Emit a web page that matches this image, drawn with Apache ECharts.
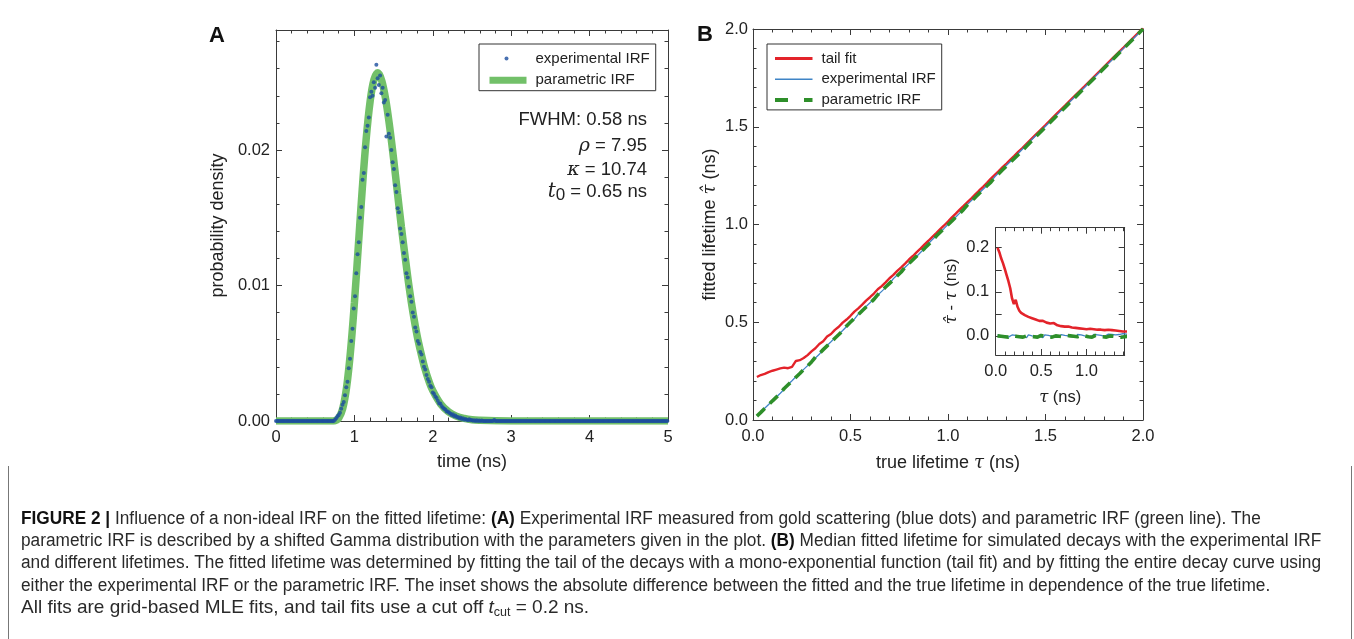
<!DOCTYPE html>
<html>
<head>
<meta charset="utf-8">
<script src="https://cdn.jsdelivr.net/npm/echarts@6/dist/echarts.min.js"></script>
<style>
html,body{margin:0;padding:0;background:#fff;}
#chart{width:1354px;height:639px;}
</style>
</head>
<body>
<div id="chart"></div>
<script>
// ---------------- DATA ----------------
// Panel A: experimental IRF (blue dots), one value per 16 ps bin starting at t = 0
const irfBinWidth = 0.016; // ns
const expIrfDensity = [
  0,0,0,0,0,0,0,0,0,0,0,0,0,0,0,0,0,0,0,0,0,0,0,
  0,0,0,0,0,0,0,0,0,0,0,0,0,0,0,0,0,0,0,0,0,0,0,
  0,0.0001,0.0002,0.00035,0.00045,0.0006,0.0009,0.0012,0.0014,0.0019,
  0.0025,0.0029,0.0039,0.0046,0.0059,0.0068,0.0083,0.0092,0.0109,0.0123,
  0.0132,0.0150,0.0158,0.0178,0.0183,0.0202,0.0214,0.0218,0.0224,0.0239,
  0.0243,0.0240,0.0250,0.0246,0.0263,0.0253,0.0248,0.0255,0.0242,0.0246,
  0.0235,0.0237,0.0210,0.0226,0.0212,0.0209,0.0200,0.0191,0.0186,0.0174,
  0.0169,0.0157,0.0154,0.0142,0.0138,0.0132,0.0124,0.0119,0.0109,0.0106,
  0.0099,0.0092,0.0088,0.0080,0.0077,0.0069,0.0066,0.0059,0.0057,0.0051,
  0.0049,0.0044,0.0040,0.0038,0.0034,0.0031,0.0029,0.0026,0.0025,0.0021,
  0.0020,0.0018,0.0017,0.0015,0.0013,0.0013,0.0011,0.0010,0.0009,0.00085,
  0.0007,0.0007,0.0006,0.00055,0.00045,0.0005,0.00035,0.0004,0.0003,0.0003,
  0.0002,0.00025,0.00015,0.0002,0.0001,0.00015,0.0001,0.00005,0.00012,0.00005,
  0.00008,0.00002,0.00006,0,0.00005,0,0.00003,0,0.00004,0,
  0,0,0,0,0,0,0,0,0.00008,0,
  0,0,0,0,0,0,0,0,0,0,0,0,0,0,0,0,0,0,0,0,
  0,0,0,0,0,0,0,0,0,0,0,0,0,0,0,0,0,0,0,0,
  0,0,0,0,0,0,0,0,0,0,0,0,0,0,0,0,0,0,0,0,
  0,0,0,0,0,0,0,0,0,0,0,0,0,0,0,0,0,0,0,0,
  0,0,0,0,0,0,0,0,0,0,0,0,0,0,0,0,0,0,0,0,
  0,0,0,0,0,0,0,0,0,0,0,0,0,0,0,0,0,0,0,0,
  0,0,0,0,0,0,0,0,0,0,0,0,0,0,0,0,0,0,0
];
// Panel A: parametric IRF (green line)
const paramIrfTime = [0,0.70,0.75,0.80,0.85,0.90,0.95,1.00,1.05,1.10,1.15,1.20,1.25,1.30,1.35,1.40,1.45,1.50,1.55,1.60,1.65,1.70,1.75,1.80,1.85,1.90,1.95,2.00,2.10,2.20,2.30,2.40,2.50,2.60,2.80,3.00,5.00];
const paramIrfDensity = [0,0,0.00002,0.00021,0.00089,0.00247,0.00512,0.00873,0.0129,0.0171,0.0208,0.02356,0.0252,0.0257,0.0251,0.0237,0.0217,0.01935,0.0168,0.0143,0.0120,0.0098,0.0079,0.0063,0.0050,0.00385,0.00295,0.00224,0.00126,0.00068,0.00036,0.00019,0.00009,0.00005,0.00001,0,0];

// Panel B: true lifetime tau (ns) and fitted-minus-true differences (ns)
const trueLifetime = [
  0.02,0.04,0.06,0.08,0.10,0.12,0.14,0.16,0.18,0.20,
  0.22,0.24,0.26,0.28,0.30,0.32,0.34,0.36,0.38,0.40,
  0.42,0.44,0.46,0.48,0.50,0.52,0.54,0.56,0.58,0.60,
  0.62,0.64,0.66,0.68,0.70,0.72,0.74,0.76,0.78,0.80,
  0.82,0.84,0.86,0.88,0.90,0.92,0.94,0.96,0.98,1.00,
  1.02,1.04,1.06,1.08,1.10,1.12,1.14,1.16,1.18,1.20,
  1.22,1.24,1.26,1.28,1.30,1.32,1.34,1.36,1.38,1.40,
  1.45,1.50,1.55,1.60,1.65,1.70,1.75,1.80,1.85,1.90,1.95,2.00
];
const tailFitDiff = [
  0.200,0.190,0.176,0.165,0.152,0.138,0.124,0.108,0.085,0.072,
  0.082,0.066,0.057,0.052,0.051,0.047,0.049,0.043,0.047,0.040,
  0.041,0.037,0.038,0.034,0.033,0.034,0.031,0.030,0.031,0.028,
  0.027,0.029,0.025,0.024,0.025,0.022,0.023,0.021,0.020,0.021,
  0.019,0.019,0.018,0.018,0.017,0.017,0.016,0.016,0.015,0.015,
  0.017,0.016,0.016,0.015,0.015,0.014,0.014,0.014,0.013,0.013,
  0.015,0.014,0.013,0.013,0.012,0.012,0.011,0.011,0.010,0.010,
  0.010,0.009,0.009,0.008,0.008,0.007,0.007,0.006,0.006,0.005,0.005,0.004
];
const expIrfDiff = [
  0.002,0.001,0.000,-0.001,-0.001,-0.002,-0.003,-0.003,0.002,0.001,
  0.001,0.000,-0.001,-0.002,-0.002,-0.003,-0.004,0.002,0.001,0.000,
  0.000,-0.001,-0.002,-0.002,-0.003,-0.004,0.002,0.002,0.001,0.000,
  -0.001,-0.001,-0.002,-0.003,-0.003,0.003,0.002,0.001,0.001,0.000,
  -0.001,-0.002,-0.002,-0.003,0.003,0.003,0.002,0.001,0.000,0.000,
  -0.001,-0.002,-0.002,0.003,0.003,0.002,0.002,0.001,0.000,-0.001,
  -0.001,0.004,0.004,0.003,0.003,0.002,0.002,0.003,0.004,0.005,
  0.004,0.003,0.002,0.003,0.002,0.001,0.002,0.001,0.000,0.001,0.000,0.000
];
const paramIrfDiff = [
  0.000,-0.001,-0.001,-0.002,-0.002,-0.003,-0.003,0.001,0.000,-0.001,
  -0.001,-0.002,-0.002,-0.003,-0.003,0.001,0.000,0.000,-0.001,-0.002,
  -0.002,-0.003,-0.003,0.001,0.001,0.000,-0.001,-0.001,-0.002,-0.003,
  -0.003,0.001,0.000,0.000,-0.001,-0.002,-0.002,-0.003,0.001,0.001,
  0.000,-0.001,-0.001,-0.002,-0.002,-0.003,0.001,0.000,0.000,-0.001,
  -0.002,-0.002,-0.003,-0.003,0.001,0.000,-0.001,-0.001,-0.002,-0.002,
  -0.003,0.001,0.000,0.000,-0.001,-0.002,-0.002,-0.003,-0.003,-0.002,
  -0.001,-0.002,-0.001,-0.002,-0.001,-0.001,-0.002,-0.001,-0.001,0.000,-0.001,0.000
];

// Tick values
const ticksA_x = [0,1,2,3,4,5];
const ticksA_y = [0,0.01,0.02];
const ticksB = [0,0.5,1.0,1.5,2.0];
const ticksInset_x = [0,0.5,1.0];
const ticksInset_y = [0,0.1,0.2];
const ticksInset_yMarks = [0,0.05,0.1,0.15,0.2];

// ---------------- STYLE / LAYOUT ----------------
const SANS = 'Liberation Sans';
const SERIF = 'DejaVu Serif';
const TXT = '#222';
const FRAME = '#3a3a3a';

function between(min, max, step, exclude) {
  const out = [];
  const n = Math.round((max - min) / step);
  for (let i = 0; i <= n; i++) {
    const v = +(min + i * step).toFixed(6);
    if (!exclude.some(e => Math.abs(e - v) < 1e-9)) out.push(v);
  }
  return out;
}

const xAxes = [], yAxes = [];
function addAxes(dim, gridIndex, min, max, majors, labels, minors, fmt, labelMargin, name, nameGap, nameSize) {
  const list = dim === 'x' ? xAxes : yAxes;
  const pos = dim === 'x' ? ['bottom', 'top'] : ['left', 'right'];
  const ls = {color: FRAME, width: 1};
  const base = {type: 'value', gridIndex, min, max, splitLine: {show: false}, scale: false};
  const mainIndex = list.length;
  list.push(Object.assign({}, base, {
    position: pos[0],
    axisLine: {show: true, onZero: false, lineStyle: ls},
    axisTick: {show: true, inside: true, length: 6, customValues: majors, lineStyle: ls},
    axisLabel: {show: true, customValues: labels, formatter: fmt, margin: labelMargin,
      fontFamily: SANS, fontSize: 16.5, color: TXT},
    name: name || '', nameLocation: 'middle', nameGap: nameGap || 0,
    nameTextStyle: {fontFamily: SANS, fontSize: nameSize, color: TXT,
      rich: {g: {fontFamily: SERIF, fontStyle: 'italic', fontSize: nameSize, color: TXT}}}
  }));
  list.push(Object.assign({}, base, {
    position: pos[1],
    axisLine: {show: true, onZero: false, lineStyle: ls},
    axisTick: {show: true, inside: true, length: 6, customValues: majors, lineStyle: ls},
    axisLabel: {show: false}
  }));
  if (minors.length) {
    [pos[0], pos[1]].forEach(p => list.push(Object.assign({}, base, {
      position: p,
      axisLine: {show: false, onZero: false},
      axisTick: {show: true, inside: true, length: 3.5, customValues: minors, lineStyle: ls},
      axisLabel: {show: false}
    })));
  }
  return mainIndex;
}

const gA = 0, gB = 1, gI = 2;
const f2 = v => v.toFixed(2), f1 = v => v.toFixed(1), f0 = v => v.toFixed(0);

const axA_x = addAxes('x', gA, 0, 5, ticksA_x, ticksA_x, between(0, 5, 0.2, ticksA_x), f0, 8, 'time (ns)', 31.7, 18);
const axA_y = addAxes('y', gA, 0, 0.02886, ticksA_y, ticksA_y, between(0, 0.028, 0.002, ticksA_y), f2, 6, 'probability density', 49, 18);
const axB_x = addAxes('x', gB, 0, 2, ticksB, ticksB, between(0, 2, 0.1, ticksB), f1, 8, 'true lifetime {g|τ} (ns)', 34.3, 18);
const axB_y = addAxes('y', gB, 0, 2, ticksB, ticksB, between(0, 2, 0.1, ticksB), f1, 5, 'fitted lifetime {g|τ̂} (ns)', 34, 18);
const axI_x = addAxes('x', gI, 0, 1.42, ticksInset_x, ticksInset_x, between(0, 1.4, 0.1, ticksInset_x), f1, 8, '{g|τ} (ns)', 34, 16.5);
const axI_y = addAxes('y', gI, -0.0435, 0.2455, ticksInset_yMarks, ticksInset_y, [], f1, 6.5, '{g|τ̂} - {g|τ} (ns)', 35.5, 16.5);

const expPts = expIrfDensity.map((v, i) => [i * irfBinWidth, v]);
const parPts = paramIrfTime.map((t, i) => [t, paramIrfDensity[i]]);
const fitPts = d => trueLifetime.map((t, i) => [t, t + d[i]]);
const diffPts = d => trueLifetime.map((t, i) => [t, d[i]]);

const RED = '#e3232a', BLUE = '#3f84c6', DGREEN = '#2e8f2a';
const dotIcon = 'path://M0,0L0,0M37,0L37,0M0,8L0,8M37,8L37,8M15,4a2,2 0 1,0 4,0a2,2 0 1,0 -4,0z';

const series = [
  {name: 'parametric IRF', type: 'line', xAxisIndex: axA_x, yAxisIndex: axA_y, data: parPts,
   symbol: 'none', smooth: 0.35, lineStyle: {color: '#72c069', width: 7.5}, itemStyle: {color: '#72c069'}, z: 2},
  {name: 'experimental IRF', type: 'scatter', xAxisIndex: axA_x, yAxisIndex: axA_y, data: expPts,
   symbol: 'circle', symbolSize: 4, itemStyle: {color: '#1c4d9e'}, z: 3},
  {name: 'tail fit', type: 'line', xAxisIndex: axB_x, yAxisIndex: axB_y, data: fitPts(tailFitDiff),
   symbol: 'none', lineStyle: {color: RED, width: 2.4}, itemStyle: {color: RED}, z: 2},
  {name: 'experimental IRF ', type: 'line', xAxisIndex: axB_x, yAxisIndex: axB_y, data: fitPts(expIrfDiff),
   symbol: 'none', lineStyle: {color: BLUE, width: 1.3}, itemStyle: {color: BLUE}, z: 3},
  {name: 'parametric IRF ', type: 'line', xAxisIndex: axB_x, yAxisIndex: axB_y, data: fitPts(paramIrfDiff),
   symbol: 'none', lineStyle: {color: DGREEN, width: 3.6, type: [11, 7]}, itemStyle: {color: DGREEN}, z: 4},
  {name: 'tail fit inset', type: 'line', xAxisIndex: axI_x, yAxisIndex: axI_y, data: diffPts(tailFitDiff),
   symbol: 'none', lineStyle: {color: RED, width: 2.6}, z: 2},
  {name: 'experimental IRF inset', type: 'line', xAxisIndex: axI_x, yAxisIndex: axI_y, data: diffPts(expIrfDiff),
   symbol: 'none', lineStyle: {color: BLUE, width: 1.3}, z: 3},
  {name: 'parametric IRF inset', type: 'line', xAxisIndex: axI_x, yAxisIndex: axI_y, data: diffPts(paramIrfDiff),
   symbol: 'none', lineStyle: {color: DGREEN, width: 3.6, type: [11, 7]}, z: 4}
];

// Caption
const captionLines = [
  '{b|FIGURE 2 |} Influence of a non-ideal IRF on the fitted lifetime: {b|(A)} Experimental IRF measured from gold scattering (blue dots) and parametric IRF (green line). The',
  'parametric IRF is described by a shifted Gamma distribution with the parameters given in the plot. {b|(B)} Median fitted lifetime for simulated decays with the experimental IRF',
  'and different lifetimes. The fitted lifetime was determined by fitting the tail of the decays with a mono-exponential function (tail fit) and by fitting the entire decay curve using',
  'either the experimental IRF or the parametric IRF. The inset shows the absolute difference between the fitted and the true lifetime in dependence of the true lifetime.'
];
const captionLast = 'All fits are grid-based MLE fits, and tail fits use a cut off {it|t}{sub|cut} = 0.2 ns.';
const capY = [519, 541, 563, 586, 608];
const CAP_SIZE = 18;
const ctx = document.createElement('canvas').getContext('2d');
ctx.font = CAP_SIZE + 'px "' + SANS + '"';
const capScale = 1300 / ctx.measureText(captionLines[2]).width;

const graphic = [];
captionLines.forEach((t, i) => graphic.push({
  type: 'text', x: 21, y: capY[i], scaleX: capScale, scaleY: 1, originX: 0, originY: 0,
  style: {text: t, fontFamily: SANS, fontSize: CAP_SIZE, fill: '#2a2a2a', verticalAlign: 'middle', align: 'left',
    rich: {b: {fontFamily: SANS, fontSize: CAP_SIZE, fontWeight: 'bold', fill: '#111'}}}
}));
graphic.push({
  type: 'text', x: 21, y: capY[4],
  style: {text: captionLast, fontFamily: SANS, fontSize: 19, fill: '#2a2a2a', verticalAlign: 'middle', align: 'left',
    rich: {it: {fontFamily: SANS, fontStyle: 'italic', fontSize: 19, fill: '#2a2a2a'},
           sub: {fontFamily: SANS, fontSize: 12.5, fill: '#2a2a2a', padding: [10, 0, 0, 0]}}}
});
// panel letters
graphic.push({type: 'text', x: 217, y: 36, style: {text: 'A', fontFamily: SANS, fontWeight: 'bold', fontSize: 22, fill: '#111', align: 'center', verticalAlign: 'middle'}});
graphic.push({type: 'text', x: 705, y: 35, style: {text: 'B', fontFamily: SANS, fontWeight: 'bold', fontSize: 22, fill: '#111', align: 'center', verticalAlign: 'middle'}});
// annotation in panel A
const annRich = {
  g: {fontFamily: SERIF, fontStyle: 'italic', fontSize: 19, fill: TXT},
  n: {fontFamily: SANS, fontSize: 18.5, fill: TXT}
};
graphic.push({type: 'text', x: 647, y: 120, style: {text: 'FWHM: 0.58 ns', fontFamily: SANS, fontSize: 18.5, fill: TXT, align: 'right', verticalAlign: 'middle'}});
graphic.push({type: 'text', x: 647, y: 146, style: {text: '{g|ρ}{n| = 7.95}', rich: annRich, align: 'right', verticalAlign: 'middle'}});
graphic.push({type: 'text', x: 647, y: 170, style: {text: '{g|κ}{n| = 10.74}', rich: annRich, align: 'right', verticalAlign: 'middle'}});
graphic.push({type: 'text', x: 647, y: 182, style: {
  text: '{g|t}{s|0}{n| = 0.65 ns}', align: 'right', verticalAlign: 'top',
  rich: {
    g: {fontFamily: SERIF, fontStyle: 'italic', fontSize: 20, fill: TXT, lineHeight: 22, verticalAlign: 'top'},
    s: {fontFamily: SANS, fontSize: 17, fill: TXT, lineHeight: 18, padding: [16, 0, 0, 0], verticalAlign: 'bottom'},
    n: {fontFamily: SANS, fontSize: 18.5, fill: TXT, lineHeight: 22, verticalAlign: 'top'}
  }}});
// caption frame lines
graphic.push({type: 'line', shape: {x1: 8.5, y1: 466, x2: 8.5, y2: 639}, style: {stroke: '#777', lineWidth: 1}});
graphic.push({type: 'line', shape: {x1: 1351.5, y1: 466, x2: 1351.5, y2: 639}, style: {stroke: '#777', lineWidth: 1}});

const legendText = {fontFamily: SANS, fontSize: 15, color: TXT, padding: [0, 0, 0, 4]};
const noMarker = {opacity: 0};
const option = {
  animation: false,
  backgroundColor: '#fff',
  grid: [
    {left: 276, top: 30, width: 392, height: 391, containLabel: false, outerBoundsMode: 'none'},
    {left: 753, top: 29, width: 390, height: 391, containLabel: false, outerBoundsMode: 'none'},
    {left: 995.7, top: 227.7, width: 129, height: 127.3, containLabel: false, outerBoundsMode: 'none'}
  ],
  xAxis: xAxes,
  yAxis: yAxes,
  legend: [
    {orient: 'vertical', left: 479, top: 44, padding: [6, 6, 2, 7], itemGap: 4.7, itemWidth: 37, itemHeight: 8,
     borderColor: '#333', borderWidth: 1, borderRadius: 0, backgroundColor: '#fff', selectedMode: false,
     textStyle: Object.assign({lineHeight: 17}, legendText),
     data: [
       {name: 'experimental IRF', icon: dotIcon},
       {name: 'parametric IRF', lineStyle: {width: 7, type: 'solid'}, itemStyle: noMarker}
     ]},
    {orient: 'vertical', left: 767, top: 44, padding: [6.5, 6, 2, 6], itemGap: 4.7, itemWidth: 37.5, itemHeight: 8,
     borderColor: '#333', borderWidth: 1, borderRadius: 0, backgroundColor: '#fff', selectedMode: false,
     textStyle: Object.assign({lineHeight: 16}, legendText),
     formatter: n => n.trim(),
     data: [
       {name: 'tail fit', lineStyle: {width: 3}, itemStyle: noMarker},
       {name: 'experimental IRF ', lineStyle: {width: 1.5}, itemStyle: noMarker},
       {name: 'parametric IRF ', lineStyle: {width: 4, type: [13, 16]}, itemStyle: noMarker}
     ]}
  ],
  graphic: graphic,
  series: series
};

const chart = echarts.init(document.getElementById('chart'), null, {renderer: 'canvas'});
chart.setOption(option);
</script>
</body>
</html>
